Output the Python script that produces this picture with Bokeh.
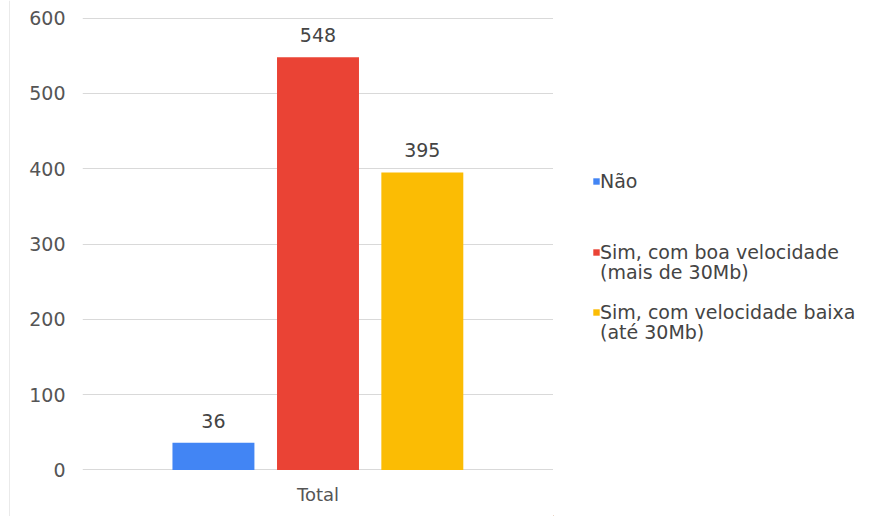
from bokeh.plotting import figure
from bokeh.layouts import row
from bokeh.models import (ColumnDataSource, FactorRange, Legend, LegendItem,
                          Range1d, FixedTicker, Span, Label)
from bokeh.transform import dodge
from bokeh.core.properties import value
from bokeh.embed import file_html
from bokeh.resources import INLINE

# ---- data ----
group = ["Total"]
series = ["Não",
          "Sim, com boa velocidade\n(mais de 30Mb)",
          "Sim, com velocidade baixa\n(até 30Mb)"]
values = [36, 548, 395]
colors = ["#4285F4", "#EA4335", "#FBBC04"]
y_ticks = [0, 100, 200, 300, 400, 500, 600]

FONT = "DejaVu Sans"
H = 516

# thin left edge of the chart area
edge = figure(width=10, height=H, x_range=Range1d(0, 10), y_range=Range1d(0, H),
              min_border=0, x_axis_location=None, y_axis_location=None,
              toolbar_location=None, output_backend="svg")
edge.frame_align = False
edge.grid.visible = False
edge.outline_line_color = None
edge.add_layout(Span(location=9.5, dimension="height", line_color="#d4d4d4",
                     line_width=1))

# main chart
p = figure(x_range=FactorRange(*group, range_padding=0), y_range=Range1d(-0.8, 600.8),
           width=543, height=H, output_backend="svg", toolbar_location=None,
           min_border_left=72, min_border_right=0, min_border_top=17,
           min_border_bottom=46)

offsets = [-0.222, 0.0, 0.2215]
for v, c, off in zip(values, colors, offsets):
    src = ColumnDataSource(dict(x=group, y=[v], lab=[str(v)]))
    p.vbar(x=dodge("x", off, range=p.x_range), top="y", width=0.174,
           source=src, fill_color=c, line_color=None)
    p.text(x=dodge("x", off, range=p.x_range), y="y", text="lab", source=src,
           text_align="center", text_baseline="alphabetic", y_offset=-22,
           text_font=value(FONT), text_font_size="19px", text_color="#444444")

p.yaxis.ticker = FixedTicker(ticks=y_ticks)
for ax in (p.xaxis, p.yaxis):
    ax.axis_line_color = None
    ax.major_tick_line_color = None
    ax.minor_tick_line_color = None
    ax.major_label_text_font = FONT
    ax.major_label_text_color = "#555555"
p.yaxis.major_label_text_font_size = "19px"
p.xaxis.major_label_text_font_size = "18px"
p.yaxis.major_label_standoff = 11
p.xaxis.major_label_standoff = 7

p.xgrid.grid_line_color = None
p.ygrid.grid_line_color = "#d9d9d9"
p.ygrid.grid_line_width = 1
p.outline_line_color = None

# legend panel
leg = figure(width=330, height=H, x_range=Range1d(0, 330), y_range=Range1d(0, H),
             min_border=0, x_axis_location=None, y_axis_location=None,
             toolbar_location=None, output_backend="svg")
leg.frame_align = False
leg.grid.visible = False
leg.outline_line_color = None
legend_pos = [(39, 324), (39, 253.5), (39, 193)]
cont_y = [None, 244.5, 184.5]
for name, c, pos, cy in zip(series, colors, legend_pos, cont_y):
    lines = name.split("\n")
    # off-screen proxy glyph, only used to draw the legend swatch
    proxy = leg.vbar(x=[-1000], top=[1], width=1, fill_color=c, line_color=None)
    lg = Legend(items=[LegendItem(label=lines[0], renderers=[proxy])], location=pos,
                margin=0, padding=0, border_line_color=None,
                background_fill_alpha=0, glyph_width=8, glyph_height=8,
                label_standoff=0, label_text_font=FONT,
                label_text_font_size="19px", label_text_color="#444444")
    leg.add_layout(lg, "center")
    if len(lines) > 1:
        leg.add_layout(Label(x=46.5, y=cy, x_units="screen", y_units="screen",
                             text="\n".join(lines[1:]), text_align="left",
                             text_baseline="alphabetic", text_font=FONT,
                             text_font_size="19px", text_color="#444444"))

layout = row(edge, p, leg)
open("out.html", "w").write(file_html(layout, INLINE))
